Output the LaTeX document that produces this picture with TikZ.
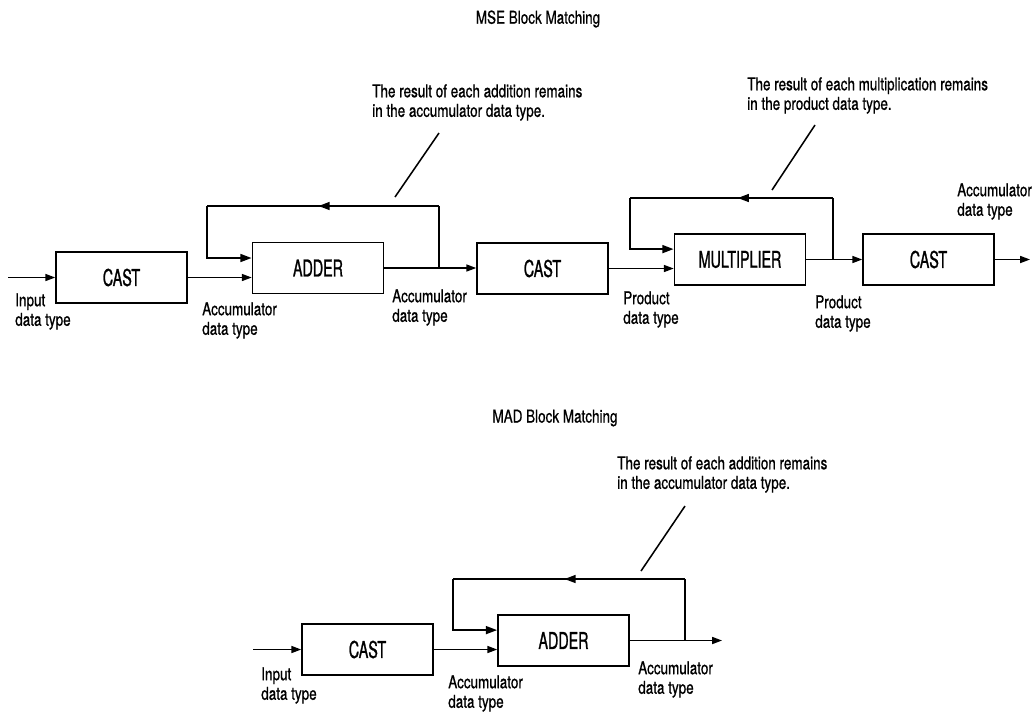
\documentclass[tikz,border=0pt]{standalone}
\usepackage{fontspec}
\setmainfont{TeX Gyre Heros}[FakeStretch=0.76,FakeBold=0.8]
\newfontfamily\blockfont{TeX Gyre Heros}[FakeStretch=0.62,FakeBold=1]
\usetikzlibrary{positioning,arrows.meta,decorations.markings}
\newcommand{\lblsize}{\fontsize{12.6}{13.9}\selectfont}
\newcommand{\blksize}{\blockfont\fontsize{16.4}{18}\selectfont}

\begin{document}
\begin{tikzpicture}[x=0.025cm,y=-0.025cm,
    blk/.style={draw, line width=1.1pt, minimum width=3.275cm, minimum height=1.275cm, font=\blksize, inner sep=0pt},
    lbl/.style={anchor=north west, align=left, inner sep=0pt, font=\lblsize},
    sig/.style={line width=1pt, -{Triangle[length=7pt,width=5pt]}},
    fb/.style={line width=1.5pt},
    fbarrow/.style={fb, postaction={decorate}, decoration={markings, mark=at position #1 with {\arrow{Triangle[length=8pt,width=5.5pt]}}}},
    ptr/.style={line width=1.1pt}]
    \useasboundingbox (0,0) rectangle (1036,713);

    % MSE block matching
    \node[font=\lblsize] (mse) at (538,19) {MSE Block Matching};
    \node[blk] (cast1) at (121.5,277.5) {CAST};
    \node[blk] (adder1) at (318,268) {ADDER};
    \node[blk] (cast2) at (542.5,268.5) {CAST};
    \node[blk] (mult) at (740,259.5) {MULTIPLIER};
    \node[blk] (cast3) at (928.5,259.5) {CAST};
    \coordinate (in1) at (8,277.5);
    \coordinate (out1) at (1030,259.5);
    \coordinate (fb1) at (439,268);
    \coordinate (fb1r) at (439,206);
    \coordinate (fb1l) at (207,206);
    \coordinate (fb2) at (833,259.5);
    \coordinate (fb2r) at (833,198);
    \coordinate (fb2l) at (630,198);

    \draw[sig] (in1) -- (cast1.west);
    \draw[sig] (cast1.east) -- (cast1.east -| adder1.west);
    \draw[sig] (adder1.east) -- (adder1.east -| cast2.west);
    \draw[sig] (cast2.east) -- (cast2.east -| mult.west);
    \draw[sig] (mult.east) -- (cast3.west);
    \draw[sig] (cast3.east) -- (out1);

    \draw[fb] (fb1) -- (fb1r);
    \draw[fbarrow=0.52] (fb1r) -- (fb1l);
    \draw[fb, -{Triangle[length=8pt,width=5.5pt]}] (fb1l) |- ([yshift=0.25cm]adder1.west);
    \draw[fb] (fb2) -- (fb2r);
    \draw[fbarrow=0.47] (fb2r) -- (fb2l);
    \draw[fb, -{Triangle[length=8pt,width=5.5pt]}] (fb2l) |- ([yshift=0.26cm]mult.west);

    \node[lbl] (in1lbl) at (15,293) {Input\\data type};
    \node[lbl] (acc1lbl) at (202,302) {Accumulator\\data type};
    \node[lbl] (acc2lbl) at (392,289) {Accumulator\\data type};
    \node[lbl] (prod1lbl) at (623,291) {Product\\data type};
    \node[lbl] (prod2lbl) at (815,295) {Product\\data type};
    \node[lbl] (acc3lbl) at (957,183) {Accumulator\\data type};

    \node[lbl] (note1) at (372,84) {The result of each addition remains\\in the accumulator data type.};
    \node[lbl] (note2) at (747,77) {The result of each multiplication remains\\in the product data type.};
    \coordinate (p1a) at (439,133);
    \coordinate (p1b) at (395,197);
    \coordinate (p2a) at (815,125);
    \coordinate (p2b) at (772,190);
    \draw[ptr] (p1a) -- (p1b);
    \draw[ptr] (p2a) -- (p2b);

    % MAD block matching
    \node[font=\lblsize] (mad) at (555,418) {MAD Block Matching};
    \node[blk] (cast4) at (367.5,649.5) {CAST};
    \node[blk] (adder2) at (563.5,640.5) {ADDER};
    \coordinate (in2) at (253,649.5);
    \coordinate (out2) at (722,640.5);
    \coordinate (fb3) at (685,640.5);
    \coordinate (fb3r) at (685,579);
    \coordinate (fb3l) at (453,579);

    \draw[sig] (in2) -- (cast4.west);
    \draw[sig] (cast4.east) -- (cast4.east -| adder2.west);
    \draw[sig] (adder2.east) -- (out2);
    \draw[fb] (fb3) -- (fb3r);
    \draw[fbarrow=0.52] (fb3r) -- (fb3l);
    \draw[fb, -{Triangle[length=8pt,width=5.5pt]}] (fb3l) |- ([yshift=0.26cm]adder2.west);

    \node[lbl] (in2lbl) at (261,667) {Input\\data type};
    \node[lbl] (acc4lbl) at (448,675) {Accumulator\\data type};
    \node[lbl] (acc5lbl) at (638,661) {Accumulator\\data type};

    \node[lbl] (note3) at (617,456) {The result of each addition remains\\in the accumulator data type.};
    \coordinate (p3a) at (685,506);
    \coordinate (p3b) at (641,571);
    \draw[ptr] (p3a) -- (p3b);
\end{tikzpicture}
\end{document}
